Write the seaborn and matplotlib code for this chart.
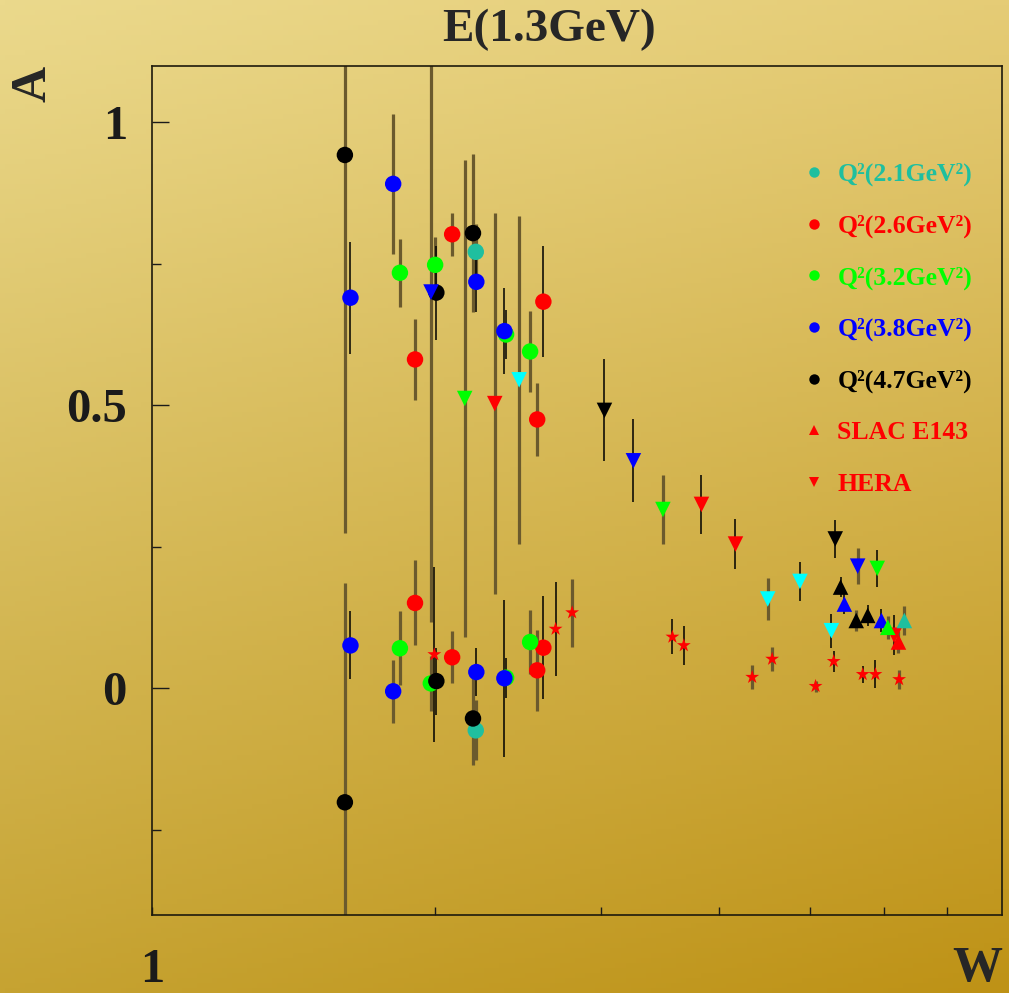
import numpy as np
import pandas as pd
import matplotlib
matplotlib.use("Agg")
import matplotlib.pyplot as plt
from matplotlib.lines import Line2D
import seaborn as sns

# ---------------- data ----------------
# circles: Q^2 series
teal_circ_W = [2.208, 2.208]
teal_circ_A = [0.771, -0.074]
teal_circ_E = [0.050, 0.053]
teal_circ_thin = [0, 0]

red_circ_W = [1.903, 2.084, 2.605, 2.566, 1.903, 2.084, 2.605, 2.566]
red_circ_A = [0.581, 0.802, 0.683, 0.475, 0.151, 0.055, 0.072, 0.032]
red_circ_E = [0.072, 0.038, 0.098, 0.064, 0.075, 0.046, 0.091, 0.072]
red_circ_thin = [0, 0, 1, 0, 0, 0, 1, 0]

green_circ_W = [1.834, 1.999, 2.378, 2.522, 1.834, 1.978, 2.378, 2.522]
green_circ_A = [0.734, 0.748, 0.625, 0.595, 0.071, 0.009, 0.019, 0.082]
green_circ_E = [0.060, 0.050, 0.043, 0.072, 0.065, 0.048, 0.035, 0.056]
green_circ_thin = [0, 0, 1, 0, 0, 0, 1, 0]

blue_circ_W = [1.625, 1.804, 2.211, 2.368, 1.625, 1.804, 2.211, 2.368]
blue_circ_A = [0.690, 0.891, 0.718, 0.631, 0.076, -0.005, 0.029, 0.018]
blue_circ_E = [0.099, 0.123, 0.054, 0.076, 0.060, 0.056, 0.042, 0.139]
blue_circ_thin = [1, 0, 1, 1, 1, 0, 1, 1]

black_circ_W = [1.603, 2.005, 2.193, 1.603, 2.005, 2.193]
black_circ_A = [0.942, 0.699, 0.804, -0.201, 0.013, -0.053]
black_circ_E = [0.668, 0.083, 0.139, 0.387, 0.059, 0.082]
black_circ_thin = [0, 1, 0, 0, 1, 0]

# downward triangles
cyan_dn_W = [2.455, 4.51, 4.88, 5.27]
cyan_dn_A = [0.545, 0.158, 0.189, 0.102]
cyan_dn_E = [0.290, 0.037, 0.034, 0.030]
cyan_dn_thin = [0, 0, 1, 1]

blue_dn_W = [1.979, 3.247, 5.62]
blue_dn_A = [0.700, 0.402, 0.216]
blue_dn_E = [0.583, 0.073, 0.032]
blue_dn_thin = [0, 1, 0]

green_dn_W = [2.149, 3.49, 5.896]
green_dn_A = [0.512, 0.316, 0.212]
green_dn_E = [0.422, 0.061, 0.033]
green_dn_thin = [0, 0, 1]

red_dn_W = [2.313, 3.835, 4.168, 6.145]
red_dn_A = [0.503, 0.325, 0.255, 0.094]
red_dn_E = [0.336, 0.052, 0.044, 0.035]
red_dn_thin = [0, 1, 1, 1]

black_dn_W = [3.025, 5.32]
black_dn_A = [0.491, 0.264]
black_dn_E = [0.090, 0.034]
black_dn_thin = [1, 1]

# upward triangles
black_up_W = [5.39, 5.60, 5.76]
black_up_A = [0.179, 0.120, 0.129]
black_up_E = [0.018, 0.018, 0.019]
black_up_thin = [1, 0, 1]

blue_up_W = [5.44, 5.957]
blue_up_A = [0.149, 0.120]
blue_up_E = [0.017, 0.021]
blue_up_thin = [1, 1]

green_up_W = [6.05]
green_up_A = [0.108]
green_up_E = [0.020]
green_up_thin = [0]

red_up_W = [6.21]
red_up_A = [0.082]
red_up_E = [0.020]
red_up_thin = [0]

teal_up_W = [6.30]
teal_up_A = [0.120]
teal_up_E = [0.025]
teal_up_thin = [0]

# red stars
star_W = [1.995, 2.684, 2.795, 3.572, 3.673, 4.342, 4.559, 5.07, 5.30, 5.69, 5.87, 6.22]
star_A = [0.060, 0.105, 0.134, 0.091, 0.076, 0.020, 0.052, 0.004, 0.048, 0.025, 0.025, 0.016]
star_E = [0.154, 0.083, 0.060, 0.031, 0.034, 0.021, 0.021, 0.010, 0.019, 0.015, 0.025, 0.017]
star_thin = [1, 1, 0, 1, 1, 0, 0, 0, 1, 1, 1, 0]

legend_labels = ["Q²(2.1GeV²)", "Q²(2.6GeV²)", "Q²(3.2GeV²)", "Q²(3.8GeV²)",
                 "Q²(4.7GeV²)", "SLAC E143", "HERA"]
title_text = "E(1.3GeV)"
x_label = "W"
y_label = "A"

# ---------------- styling ----------------
palette = {"teal": "#1fbf9f", "cyan": "#00ffff", "red": "#ff0000", "green": "#00ff00",
           "blue": "#0000ff", "black": "#000000"}

groups = [
    ("teal", "o", teal_circ_W, teal_circ_A, teal_circ_E, teal_circ_thin),
    ("red", "o", red_circ_W, red_circ_A, red_circ_E, red_circ_thin),
    ("green", "o", green_circ_W, green_circ_A, green_circ_E, green_circ_thin),
    ("blue", "o", blue_circ_W, blue_circ_A, blue_circ_E, blue_circ_thin),
    ("black", "o", black_circ_W, black_circ_A, black_circ_E, black_circ_thin),
    ("cyan", "v", cyan_dn_W, cyan_dn_A, cyan_dn_E, cyan_dn_thin),
    ("blue", "v", blue_dn_W, blue_dn_A, blue_dn_E, blue_dn_thin),
    ("green", "v", green_dn_W, green_dn_A, green_dn_E, green_dn_thin),
    ("red", "v", red_dn_W, red_dn_A, red_dn_E, red_dn_thin),
    ("black", "v", black_dn_W, black_dn_A, black_dn_E, black_dn_thin),
    ("black", "^", black_up_W, black_up_A, black_up_E, black_up_thin),
    ("blue", "^", blue_up_W, blue_up_A, blue_up_E, blue_up_thin),
    ("green", "^", green_up_W, green_up_A, green_up_E, green_up_thin),
    ("red", "^", red_up_W, red_up_A, red_up_E, red_up_thin),
    ("teal", "^", teal_up_W, teal_up_A, teal_up_E, teal_up_thin),
    ("red", "*", star_W, star_A, star_E, star_thin),
]

rows = []
for col, mk, W, A, E, T in groups:
    for w, a, e, t in zip(W, A, E, T):
        rows.append(dict(W=w, A=a, err=e, thin=t, color=col, kind=mk))
df = pd.DataFrame(rows)

sns.set_style("ticks")
plt.rcParams["font.family"] = ["Liberation Serif", "DejaVu Serif"]
plt.rcParams["font.weight"] = "bold"

W_PX, H_PX, DPI = 1009, 993, 100
fig = plt.figure(figsize=(W_PX / DPI, H_PX / DPI), dpi=DPI)

# background gradient
bg = fig.add_axes([0, 0, 1, 1], zorder=-10)
yy, xx = np.mgrid[0:1:200j, 0:1:200j]
tl = np.array([235, 217, 140]) / 255
tr = np.array([229, 204, 118]) / 255
bl = np.array([198, 163, 50]) / 255
br = np.array([190, 146, 22]) / 255
img = ((1 - yy)[..., None] * ((1 - xx)[..., None] * tl + xx[..., None] * tr)
       + yy[..., None] * ((1 - xx)[..., None] * bl + xx[..., None] * br))
bg.imshow(img, aspect="auto", extent=[0, 1, 0, 1], origin="upper")
bg.set_axis_off()

ax = fig.add_axes([152 / W_PX, 1 - 915 / H_PX, 850 / W_PX, 849.5 / H_PX])
ax.set_facecolor("none")
ax.set_xscale("log")

grey_bar = "#6b5a2d"
thick = df[df.thin == 0]
thin = df[df.thin == 1]
ax.errorbar(thick.W, thick.A, yerr=thick.err, fmt="none", ecolor=grey_bar,
            elinewidth=2.3, capsize=0, zorder=2)
ax.errorbar(thin.W, thin.A, yerr=thin.err, fmt="none", ecolor="black",
            elinewidth=1.1, capsize=0, zorder=2.5)

sizes = {"o": 140, "v": 125, "^": 125, "*": 110}
for mk in ["o", "v", "^", "*"]:
    sub = df[df.kind == mk]
    sns.scatterplot(data=sub, x="W", y="A", hue="color", palette=palette, marker=mk,
                    s=sizes[mk], linewidth=0, legend=False, ax=ax, zorder=3)

ax.set_xlim(1, 8)
ax.set_ylim(-0.4, 1.1)
ax.set_xlabel("")
ax.set_ylabel("")

ax.set_xticks([1, 2, 3, 4, 5, 6, 7])
ax.set_xticklabels(["1", "", "", "", "", "", ""])
ax.xaxis.set_minor_locator(matplotlib.ticker.NullLocator())
ax.tick_params(axis="x", direction="in", length=6, width=1, colors="#1a1a1a",
               labelsize=35, pad=24, top=False)
ax.set_yticks([0, 0.5, 1])
ax.set_yticklabels(["0", "0.5", "1"])
ax.set_yticks([-0.25, 0.25, 0.75], minor=True)
ax.tick_params(axis="y", which="major", direction="in", length=12, width=1,
               colors="#1a1a1a", labelsize=35, pad=18, right=False)
ax.tick_params(axis="y", which="minor", direction="in", length=6.5, width=1,
               colors="#1a1a1a", right=False)
for lab in ax.get_xticklabels() + ax.get_yticklabels():
    lab.set_fontweight("bold")
for sp in ax.spines.values():
    sp.set_visible(True)
    sp.set_color("#1e1a0c")
    sp.set_linewidth(1.2)

# titles/labels
fig.text(549 / W_PX, 1 - 30 / H_PX, title_text, ha="center", va="center",
         fontsize=34, fontweight="bold")
fig.text(1002 / W_PX, 1 / H_PX, x_label, ha="right", va="bottom",
         fontsize=36, fontweight="bold")
fig.text(33 / W_PX, 1 - 84 / H_PX, y_label, ha="center", va="center", rotation=90,
         fontsize=36, fontweight="bold")

# legend
leg_colors = [palette["teal"], palette["red"], palette["green"], palette["blue"],
              palette["black"], palette["red"], palette["red"]]
leg_markers = ["o", "o", "o", "o", "o", "^", "v"]
handles = [Line2D([], [], ls="none", marker=m, color=c, markersize=7.5, markeredgewidth=0)
           for m, c in zip(leg_markers, leg_colors)]
leg = ax.legend(handles, legend_labels, loc="upper left",
                bbox_to_anchor=(804 / W_PX, 1 - 163 / H_PX), bbox_transform=fig.transFigure,
                frameon=False, handlelength=0.8, handletextpad=0.5,
                labelspacing=1.1, borderpad=0, borderaxespad=0, labelcolor=leg_colors,
                prop={"weight": "bold", "size": 18.5})

fig.savefig("out.png", dpi=DPI)
